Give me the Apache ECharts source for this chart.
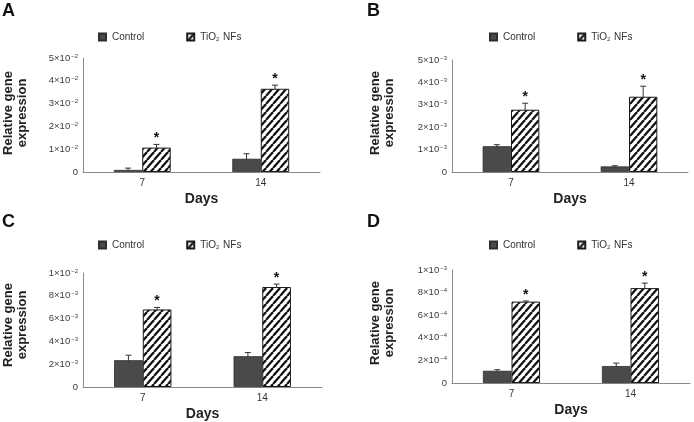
<!DOCTYPE html>
<html>
<head>
<meta charset="utf-8">
<script src="https://cdn.jsdelivr.net/npm/echarts@6/dist/echarts.min.js"></script>
<style>
html,body{margin:0;padding:0;background:#fff;}
#chart{width:694px;height:422px;}
</style>
</head>
<body>
<div id="chart"></div>
<script>
// ---------- data ----------
const categories = ['7', '14'];

const controlA = [0.0009, 0.0058];
const controlErrA = [0.0008, 0.0022];
const tioA = [0.0107, 0.0365];
const tioErrA = [0.0014, 0.0016];

const controlB = [0.00115, 0.00025];
const controlErrB = [0.00007, 0.00003];
const tioB = [0.00278, 0.00336];
const tioErrB = [0.00029, 0.00047];

const controlC = [0.00235, 0.0027];
const controlErrC = [0.00044, 0.00032];
const tioC = [0.0068, 0.00877];
const tioErrC = [0.00018, 0.00026];

const controlD = [0.000108, 0.00015];
const controlErrD = [0.00001, 0.000026];
const tioD = [0.00072, 0.00084];
const tioErrD = [0.000006, 0.000044];

const sigControl = [0, 0];
const sigTio = [1, 1];

const yMaxA = 0.05, yStepA = 0.01;
const yMaxB = 0.005, yStepB = 0.001;
const yMaxC = 0.01, yStepC = 0.002;
const yMaxD = 0.001, yStepD = 0.0002;

const yTicksA = ['0', '1×10^−2', '2×10^−2', '3×10^−2', '4×10^−2', '5×10^−2'];
const yTicksB = ['0', '1×10^−3', '2×10^−3', '3×10^−3', '4×10^−3', '5×10^−3'];
const yTicksC = ['0', '2×10^−3', '4×10^−3', '6×10^−3', '8×10^−3', '1×10^−2'];
const yTicksD = ['0', '2×10^−4', '4×10^−4', '6×10^−4', '8×10^−4', '1×10^−3'];

const panelLetters = ['A', 'B', 'C', 'D'];
const seriesNames = ['Control', 'TiO2 NFs'];
const yTitle = 'Relative gene\nexpression';
const xTitle = 'Days';

// ---------- styling ----------
const FONT = '"Liberation Sans", Arial, Helvetica, sans-serif';
const BAR_FRAC = 0.24;

function makeHatch() {
  const w = 7, h = 8;
  const c = document.createElement('canvas');
  c.width = w; c.height = h;
  const ctx = c.getContext('2d');
  ctx.fillStyle = '#fff';
  ctx.fillRect(0, 0, w, h);
  ctx.strokeStyle = '#111';
  ctx.lineWidth = 2.3;
  [-w, 0, w].forEach(function (dx) {
    ctx.beginPath();
    ctx.moveTo(dx, h);
    ctx.lineTo(dx + w, 0);
    ctx.stroke();
  });
  return c;
}
const hatch = { image: makeHatch(), repeat: 'repeat' };

const panels = [
  { control: controlA, cErr: controlErrA, tio: tioA, tErr: tioErrA, yMax: yMaxA, yStep: yStepA, ticks: yTicksA,
    grid: { left: 83, top: 58, width: 237, height: 114 }, legendLeft: 98, legendTop: 32,
    letterPos: [2, 2], yTitlePos: [15, 113] },
  { control: controlB, cErr: controlErrB, tio: tioB, tErr: tioErrB, yMax: yMaxB, yStep: yStepB, ticks: yTicksB,
    grid: { left: 452, top: 60, width: 236, height: 112 }, legendLeft: 489, legendTop: 32,
    letterPos: [367, 2], yTitlePos: [382, 113] },
  { control: controlC, cErr: controlErrC, tio: tioC, tErr: tioErrC, yMax: yMaxC, yStep: yStepC, ticks: yTicksC,
    grid: { left: 83, top: 273, width: 239, height: 114 }, legendLeft: 98, legendTop: 240,
    letterPos: [2, 213], yTitlePos: [15, 325] },
  { control: controlD, cErr: controlErrD, tio: tioD, tErr: tioErrD, yMax: yMaxD, yStep: yStepD, ticks: yTicksD,
    grid: { left: 452, top: 270, width: 238, height: 113 }, legendLeft: 489, legendTop: 240,
    letterPos: [367, 213], yTitlePos: [382, 323] }
];

function tickRich(s) {
  const parts = s.split('^');
  if (parts.length === 1) return '{m|' + parts[0] + '}';
  return '{m|' + parts[0] + '}{s|' + parts[1] + '}';
}

function errRender(params, api) {
  const ci = api.value(0), v = api.value(1), e = api.value(2), g = api.value(3), s = api.value(4);
  const band = api.size([1, 0])[0];
  const bw = band * BAR_FRAC;
  const base = api.coord([ci, v]);
  const x = base[0] + (g === 0 ? -bw / 2 : bw / 2);
  const yTop = api.coord([ci, v + e])[1];
  const children = [
    { type: 'line', shape: { x1: x, y1: base[1] + 1, x2: x, y2: yTop }, style: { stroke: '#333', lineWidth: 1 } },
    { type: 'line', shape: { x1: x - 3, y1: yTop, x2: x + 3, y2: yTop }, style: { stroke: '#333', lineWidth: 1 } }
  ];
  if (s) {
    children.push({ type: 'text', x: x, y: yTop + 1,
      style: { text: '*', font: 'bold 14px ' + FONT, fill: '#111', align: 'center', verticalAlign: 'bottom' } });
  }
  return { type: 'group', children: children };
}

const option = {
  animation: false,
  backgroundColor: '#fff',
  textStyle: { fontFamily: FONT },
  grid: [], xAxis: [], yAxis: [], series: [], legend: [], graphic: []
};

panels.forEach(function (p, i) {
  option.grid.push(Object.assign({ containLabel: false }, p.grid));
  option.xAxis.push({
    type: 'category', gridIndex: i, data: categories,
    axisTick: { show: false },
    axisLine: { lineStyle: { color: '#8a8a8a', width: 1 } },
    axisLabel: { fontSize: 10, color: '#333', margin: 6, fontFamily: FONT },
    name: xTitle, nameLocation: 'middle', nameGap: 20,
    nameTextStyle: { fontSize: 14, fontWeight: 'bold', color: '#222', fontFamily: FONT }
  });
  option.yAxis.push({
    type: 'value', gridIndex: i, min: 0, max: p.yMax, interval: p.yStep,
    splitLine: { show: false },
    axisTick: { show: false },
    axisLine: { show: true, lineStyle: { color: '#8a8a8a', width: 1 } },
    axisLabel: {
      margin: 5, fontFamily: FONT,
      formatter: function (v, idx) { return tickRich(p.ticks[idx] !== undefined ? p.ticks[idx] : String(v)); },
      rich: {
        m: { fontSize: 9.5, color: '#3a3a3a', fontFamily: FONT },
        s: { fontSize: 6, color: '#3a3a3a', fontFamily: FONT, verticalAlign: 'top', padding: [0, 0, 0, 1] }
      }
    }
  });
  option.series.push({
    name: seriesNames[0], type: 'bar', xAxisIndex: i, yAxisIndex: i,
    data: p.control, barWidth: (BAR_FRAC * 100) + '%', barGap: '0%',
    itemStyle: { color: '#4a4a4a', borderColor: '#2e2e2e', borderWidth: 0.8 }
  });
  option.series.push({
    name: seriesNames[1], type: 'bar', xAxisIndex: i, yAxisIndex: i,
    data: p.tio, barWidth: (BAR_FRAC * 100) + '%', barGap: '0%',
    itemStyle: { color: hatch, borderColor: '#1a1a1a', borderWidth: 1 }
  });
  const errData = [];
  categories.forEach(function (c, k) {
    errData.push([k, p.control[k], p.cErr[k], 0, sigControl[k]]);
    errData.push([k, p.tio[k], p.tErr[k], 1, sigTio[k]]);
  });
  option.series.push({
    type: 'custom', xAxisIndex: i, yAxisIndex: i, renderItem: errRender,
    encode: { x: 0, y: 1 }, data: errData, z: 5, silent: true
  });
  option.legend.push({
    data: seriesNames, left: p.legendLeft, top: p.legendTop, padding: 0,
    icon: 'rect', itemWidth: 7, itemHeight: 7, itemGap: 42,
    selectedMode: false,
    formatter: function (name) {
      return name === 'TiO2 NFs' ? '{a|TiO}{b|2}{a| NFs}' : '{a|' + name + '}';
    },
    textStyle: {
      fontFamily: FONT, padding: [0, 0, 0, 1],
      rich: {
        a: { fontSize: 10, color: '#333', fontFamily: FONT },
        b: { fontSize: 6, color: '#333', fontFamily: FONT, verticalAlign: 'bottom', padding: [0, 1, 0, 0] }
      }
    }
  });
  option.graphic.push({
    type: 'text', left: p.letterPos[0], top: p.letterPos[1],
    style: { text: panelLetters[i], font: 'bold 18px ' + FONT, fill: '#111' }
  });
  option.graphic.push({
    type: 'text', x: p.yTitlePos[0], y: p.yTitlePos[1], rotation: Math.PI / 2,
    style: { text: yTitle, font: 'bold 13px ' + FONT, fill: '#222', align: 'center', verticalAlign: 'middle', lineHeight: 14 }
  });
});

const chart = echarts.init(document.getElementById('chart'), null, { renderer: 'canvas' });
chart.setOption(option);
</script>
</body>
</html>
